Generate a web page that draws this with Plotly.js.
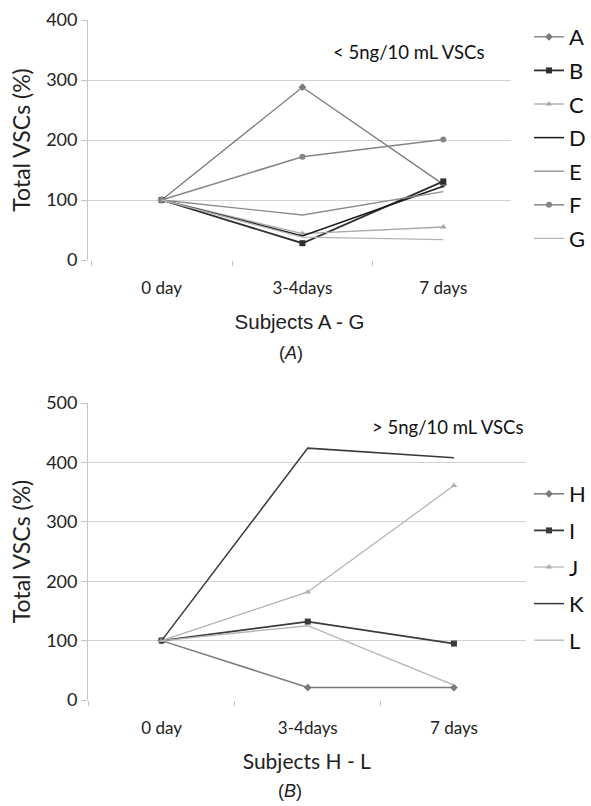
<!DOCTYPE html>
<html>
<head>
<meta charset="utf-8">
<script src="https://cdn.plot.ly/plotly-3.0.1.min.js"></script>
<style>html,body{margin:0;padding:0;background:#fff;}#chart{width:591px;height:806px;}</style>
</head>
<body>
<div id="chart"></div>
<script>
// Categories (time points)
const days = ["0 day", "3-4days", "7 days"];

// Panel A: subjects with < 5ng/10 mL VSCs (Total VSCs %)
const subjA = [100, 288, 126];
const subjB = [100, 28, 131];
const subjC = [100, 44, 55];
const subjD = [100, 40, 123];
const subjE = [100, 75, 114];
const subjF = [100, 172, 201];
const subjG = [100, 38, 34];

// Panel B: subjects with > 5ng/10 mL VSCs (Total VSCs %)
const subjH = [100, 21, 21];
const subjI = [100, 132, 95];
const subjJ = [100, 182, 361];
const subjK = [100, 424, 408];
const subjL = [100, 125, 25];

const namesTop = ["A", "B", "C", "D", "E", "F", "G"];
const valuesTop = [subjA, subjB, subjC, subjD, subjE, subjF, subjG];
const stylesTop = [
  {color: "#7a7a7a", symbol: "diamond", mode: "lines+markers", width: 1.3},
  {color: "#2e2e2e", symbol: "square", mode: "lines+markers", width: 1.8},
  {color: "#a8a8a8", symbol: "triangle-up", mode: "lines+markers", width: 1.3},
  {color: "#1a1a1a", symbol: "circle", mode: "lines", width: 1.5},
  {color: "#8c8c8c", symbol: "circle", mode: "lines", width: 1.3},
  {color: "#858585", symbol: "circle", mode: "lines+markers", width: 1.5},
  {color: "#b4b4b4", symbol: "circle", mode: "lines", width: 1.3}
];

const namesBot = ["H", "I", "J", "K", "L"];
const valuesBot = [subjH, subjI, subjJ, subjK, subjL];
const stylesBot = [
  {color: "#7a7a7a", symbol: "diamond", mode: "lines+markers", width: 1.5},
  {color: "#3a3a3a", symbol: "square", mode: "lines+markers", width: 1.8},
  {color: "#b0b0b0", symbol: "triangle-up", mode: "lines+markers", width: 1.2},
  {color: "#3a3a3a", symbol: "circle", mode: "lines", width: 1.5},
  {color: "#b4b4b4", symbol: "circle", mode: "lines", width: 1.3}
];

const traces = [];
namesTop.forEach((n, i) => {
  const s = stylesTop[i];
  traces.push({
    x: days, y: valuesTop[i], name: n, type: "scatter", mode: s.mode,
    xaxis: "x", yaxis: "y", legend: "legend", legendgroup: "g" + n,
    line: {color: s.color, width: s.width},
    marker: {color: s.color, symbol: s.symbol, size: 6}
  });
});
namesBot.forEach((n, i) => {
  const s = stylesBot[i];
  traces.push({
    x: days, y: valuesBot[i], name: n, type: "scatter", mode: s.mode,
    xaxis: "x2", yaxis: "y2", legend: "legend2", legendgroup: "g" + n,
    line: {color: s.color, width: s.width},
    marker: {color: s.color, symbol: s.symbol, size: 6}
  });
});

const W = 591, H = 806;
const FONT = "Lato, 'Open Sans', sans-serif";
const ARIAL = "'Liberation Sans', Arial, sans-serif";
const gridCol = "#d2d2d2";

function xAxis(domL, domR, r0, r1, title, titleFont) {
  return {
    domain: [domL / W, domR / W], range: [r0, r1], type: "category",
    showgrid: false, zeroline: false, showline: false,
    ticks: "outside", tickson: "boundaries", ticklen: 5, tickcolor: "#c4c4c4",
    ticklabelstandoff: 16,
    tickfont: {family: FONT, size: 17, color: "#222"},
    title: {text: title, font: titleFont, standoff: 17},
    automargin: false, fixedrange: true
  };
}
function yAxis(top, bot, maxV, anchor) {
  return {
    domain: [1 - bot / H, 1 - top / H], range: [0, maxV], dtick: 100,
    anchor: anchor,
    showgrid: true, gridcolor: gridCol, gridwidth: 1, zeroline: false,
    showline: true, linecolor: "#c4c4c4", linewidth: 1,
    ticks: "outside", ticklen: 6, tickcolor: "#c4c4c4",
    tickfont: {family: FONT, size: 18, color: "#222"},
    title: {text: "Total VSCs (%)", font: {family: FONT, size: 23, color: "#222"}, standoff: 9},
    automargin: false, fixedrange: true
  };
}

const layout = {
  width: W, height: H,
  margin: {l: 0, r: 0, t: 0, b: 0},
  paper_bgcolor: "#fff", plot_bgcolor: "#fff",
  font: {family: FONT, color: "#222"},
  xaxis: xAxis(91, 528, -0.522, 2.481, "Subjects A - G", {family: ARIAL, size: 20.5, color: "#222"}),
  yaxis: yAxis(20, 260, 400, "x"),
  xaxis2: Object.assign(xAxis(91, 543, -0.503, 2.49, "Subjects H - L", {family: FONT, size: 21, color: "#222"}), {anchor: "y2"}),
  yaxis2: yAxis(403, 700, 500, "x2"),
  legend: {
    x: 547 / W, xanchor: "left", y: 1 - 16 / H, yanchor: "top",
    bgcolor: "rgba(0,0,0,0)", borderwidth: 0,
    font: {family: FONT, size: 22, color: "#111"}, itemwidth: 30,
    tracegroupgap: 2
  },
  legend2: {
    x: 547 / W, xanchor: "left", y: 1 - 473 / H, yanchor: "top",
    bgcolor: "rgba(0,0,0,0)", borderwidth: 0,
    font: {family: FONT, size: 22, color: "#111"}, itemwidth: 30,
    tracegroupgap: 5
  },
  annotations: [
    {text: "< 5ng/10 mL VSCs", xref: "paper", yref: "paper", x: 422 / W, y: 1 - 52 / H,
     xanchor: "center", yanchor: "middle", showarrow: false,
     font: {family: FONT, size: 18.5, color: "#111"}},
    {text: "> 5ng/10 mL VSCs", xref: "paper", yref: "paper", x: 462 / W, y: 1 - 427 / H,
     xanchor: "center", yanchor: "middle", showarrow: false,
     font: {family: FONT, size: 18.5, color: "#111"}},
    {text: "(<i>A</i>)", xref: "paper", yref: "paper", x: 301 / W, y: 1 - 353 / H,
     xanchor: "center", yanchor: "middle", showarrow: false,
     font: {family: ARIAL, size: 18, color: "#222"}},
    {text: "(<i>B</i>)", xref: "paper", yref: "paper", x: 300 / W, y: 1 - 791 / H,
     xanchor: "center", yanchor: "middle", showarrow: false,
     font: {family: ARIAL, size: 18, color: "#222"}}
  ],
  showlegend: true
};

Plotly.newPlot("chart", traces, layout, {displayModeBar: false, staticPlot: true});
</script>
</body>
</html>
